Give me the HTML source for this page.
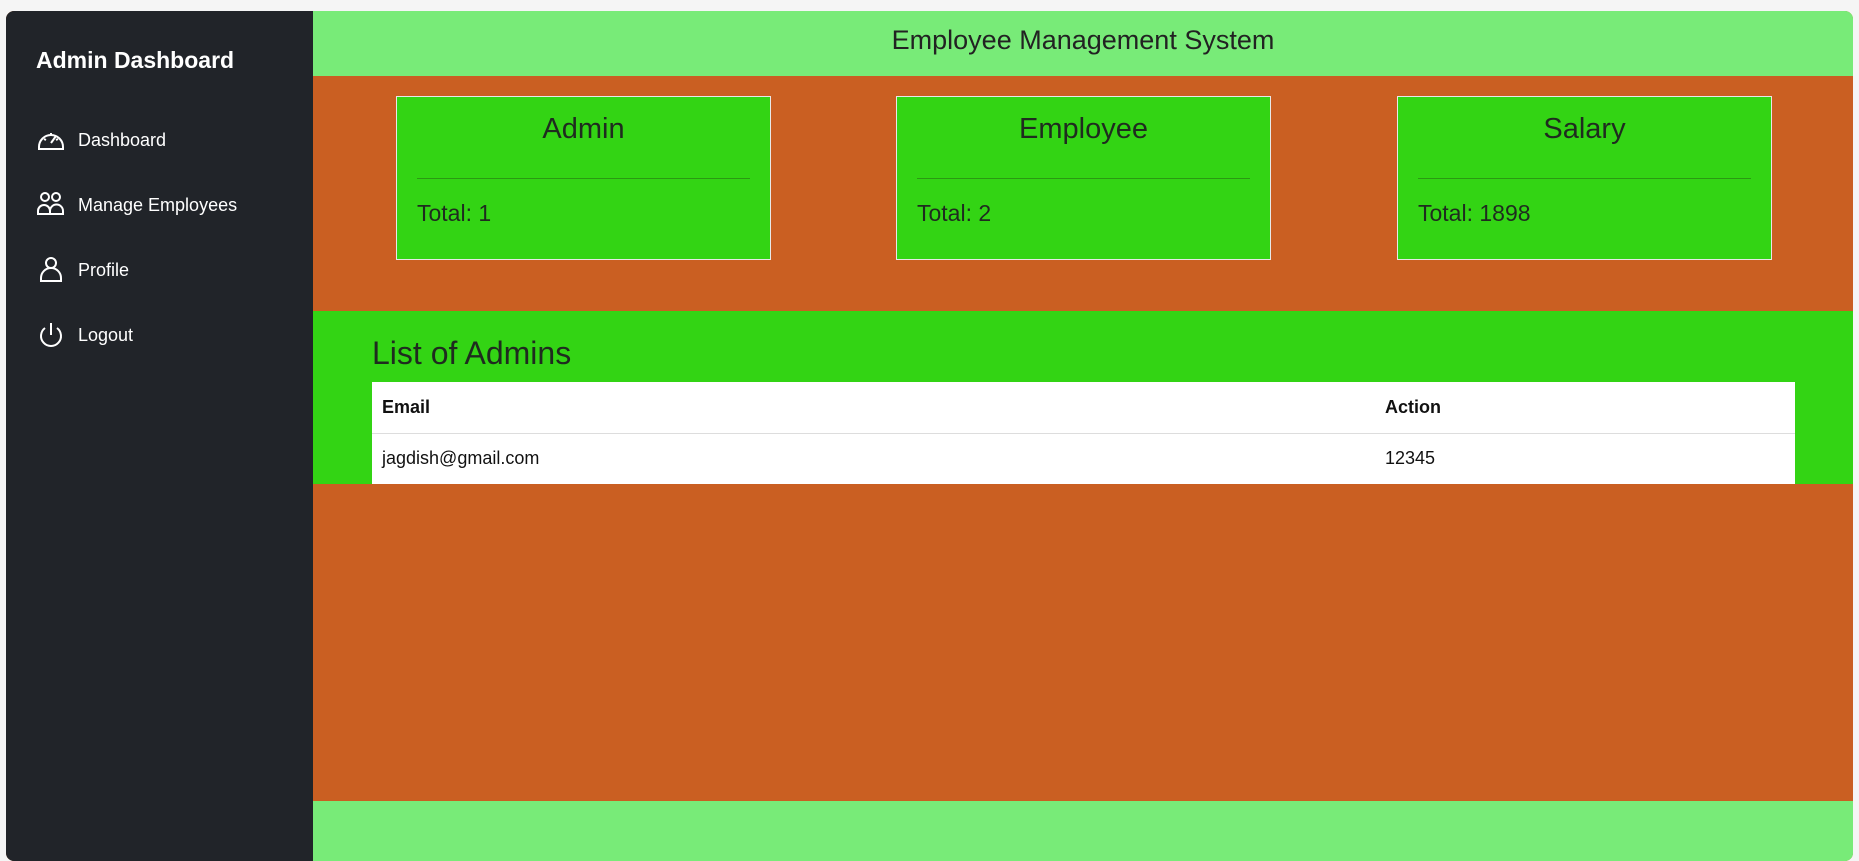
<!DOCTYPE html>
<html><head><meta charset="utf-8"><style>
*{margin:0;padding:0;box-sizing:border-box}
body{width:1859px;height:851px;background:#f5f5f5;font-family:"Liberation Sans",sans-serif;position:relative;overflow:hidden}
.wrap{position:absolute;left:6px;top:11px;width:1847px;height:850px;border-radius:8px;overflow:hidden;background:#ca5f22}
.side{position:absolute;left:0;top:0;width:307px;height:100%;background:#212429;color:#fff}
.side h1{position:absolute;left:30px;top:36px;font-size:23px;font-weight:bold}
.nav{position:absolute;left:30px;font-size:18px;display:flex;align-items:center}
.nav svg{width:30px;height:30px;margin-right:12px}
.hdr{position:absolute;left:307px;top:0;right:0;height:65px;background:#78eb78;text-align:center;font-size:27px;line-height:58px;color:#222}
.card{position:absolute;top:85px;width:375px;height:164px;background:#33d414;border:1px solid #e8e8e8;color:#1f2b1f}
.card h2{text-align:center;font-weight:normal;font-size:29px;margin-top:16px}
.card hr{position:absolute;left:20px;right:20px;top:81px;border:0;border-top:1px solid #2a9a12}
.card p{position:absolute;left:20px;top:103px;font-size:23px}
.list{position:absolute;left:307px;right:0;top:300px;height:173px;background:#33d414}
.list h3{position:absolute;left:59px;top:24px;font-size:32px;font-weight:normal;color:#1f2b1f}
table{position:absolute;left:59px;top:71px;width:1423px;background:#fff;border-collapse:collapse;font-size:18px}
td{height:51px;padding-left:10px;color:#111}
tr:first-child td{font-weight:bold;border-bottom:1px solid #ddd}
.foot{position:absolute;left:307px;right:0;top:790px;height:60px;background:#78eb78}
</style></head><body><div class="wrap">
<div class="side"><h1>Admin Dashboard</h1>
<div class="nav" style="top:114px"><svg viewBox="0 0 30 30" fill="none" stroke="#fff" stroke-width="2"><path d="M3 22a12 12 0 1 1 24 0v2H3z"/><path d="M15 18l5-7"/><path d="M8 14l2 1M15 8v2M22 14l-2 1"/></svg>Dashboard</div>
<div class="nav" style="top:179px"><svg viewBox="0 0 30 30" fill="none" stroke="#fff" stroke-width="2"><circle cx="9" cy="7" r="4"/><circle cx="20" cy="7" r="4"/><path d="M2 24v-3a6 6 0 0 1 12 0v3zM14 24v-3a6 6 0 0 1 13 0v3z"/></svg>Manage Employees</div>
<div class="nav" style="top:244px"><svg viewBox="0 0 30 30" fill="none" stroke="#fff" stroke-width="2"><circle cx="15" cy="8" r="5"/><path d="M5 26v-3a7 7 0 0 1 20 0v3z"/></svg>Profile</div>
<div class="nav" style="top:309px"><svg viewBox="0 0 30 30" fill="none" stroke="#fff" stroke-width="2"><path d="M15 3v12"/><path d="M9 8a10 10 0 1 0 12 0"/></svg>Logout</div>
</div>
<div class="hdr">Employee Management System</div>
<div class="card" style="left:390px"><h2>Admin</h2><hr><p>Total: 1</p></div>
<div class="card" style="left:890px"><h2>Employee</h2><hr><p>Total: 2</p></div>
<div class="card" style="left:1391px"><h2>Salary</h2><hr><p>Total: 1898</p></div>
<div class="list"><h3>List of Admins</h3>
<table><tr><td style="width:1003px">Email</td><td>Action</td></tr><tr><td>jagdish@gmail.com</td><td>12345</td></tr></table></div>
<div class="foot"></div>
</div></body></html>
